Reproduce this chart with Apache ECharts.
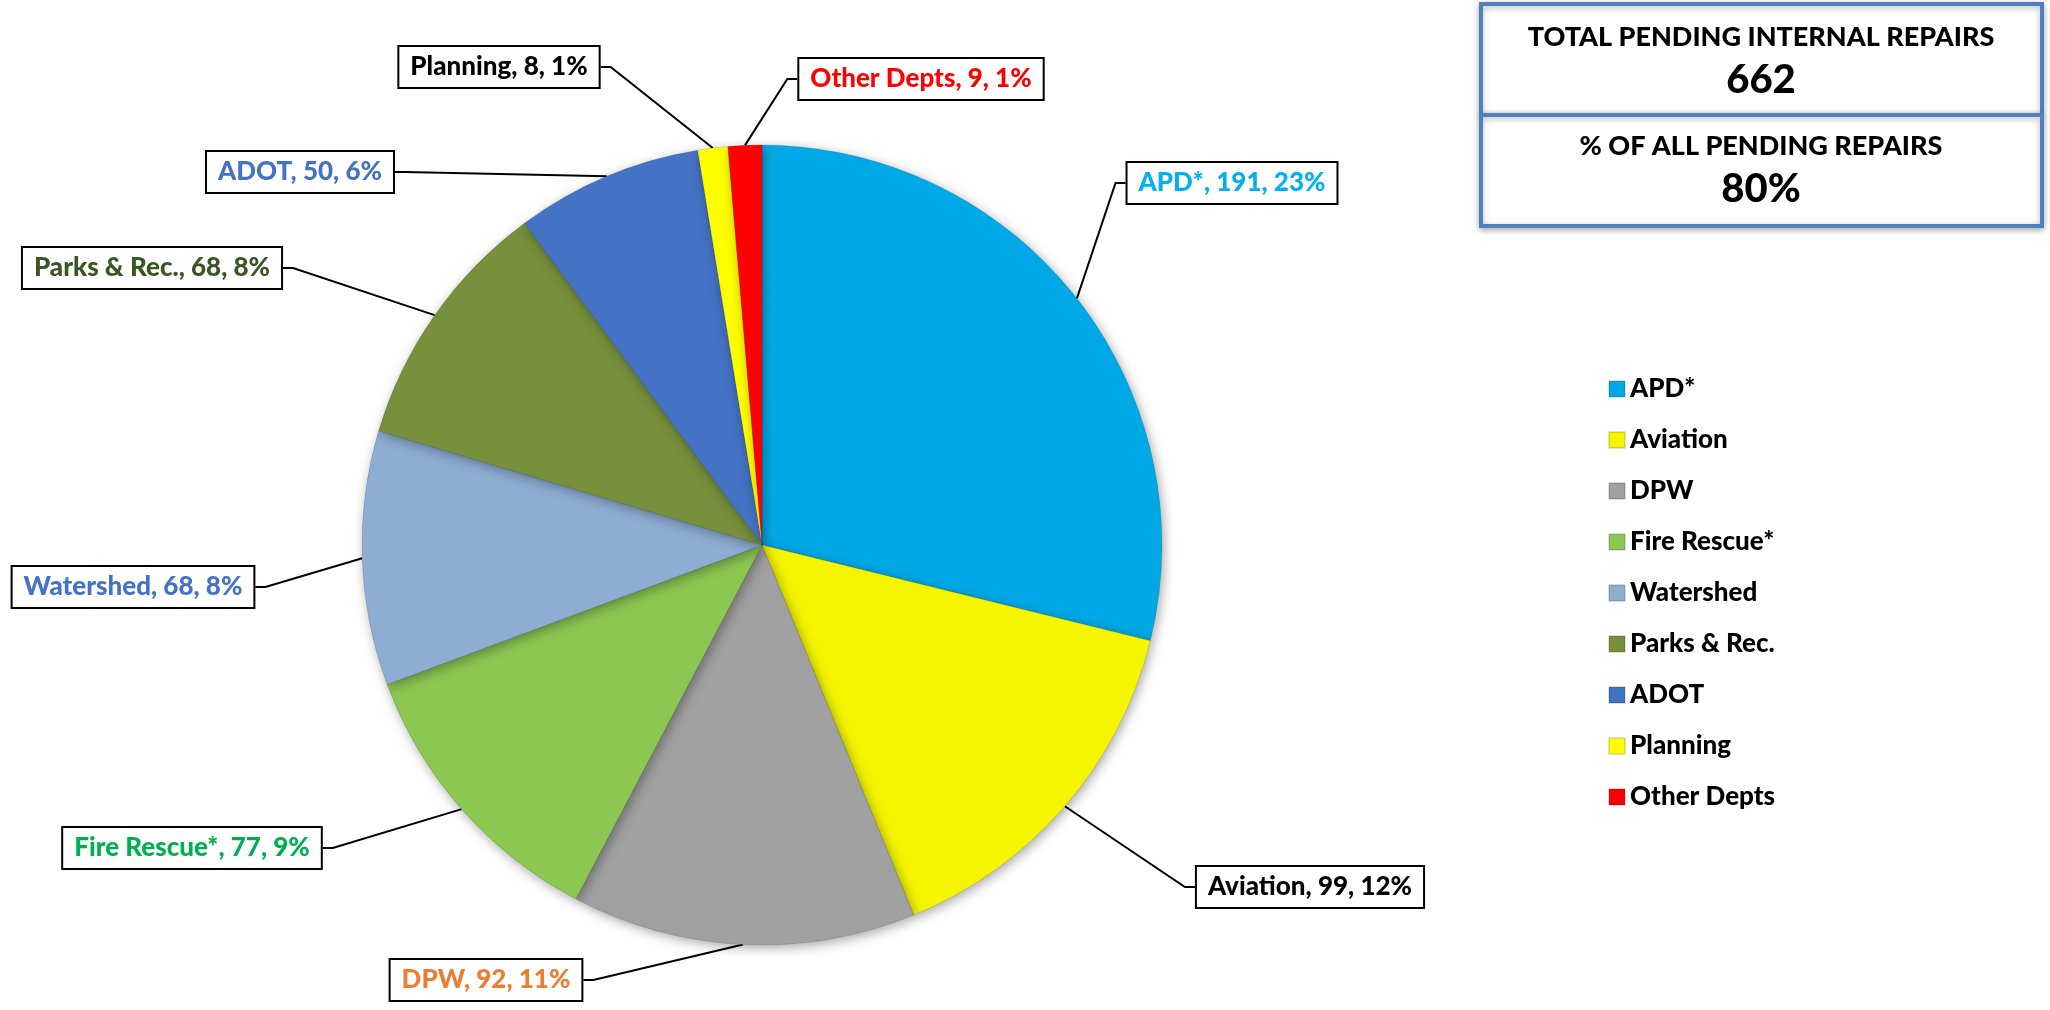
<!DOCTYPE html>
<html lang="en" style="height: 100%">
<head>
    <meta charset="utf-8"/>
    <meta name="viewport" content="width=device-width, initial-scale=1.0"/>
</head>
<body style="height: 100%; margin: 0; overflow: hidden; background: #fff">
<div id="container" style="height: 100%"></div>

<script type="text/javascript" src="https://cdn.jsdelivr.net/npm/echarts@6/dist/echarts.min.js"></script>

<script type="text/javascript">
    // data
    var depts = ["APD*", "Aviation", "DPW", "Fire Rescue*", "Watershed", "Parks & Rec.", "ADOT", "Planning", "Other Depts"];
    var pending = [191, 99, 92, 77, 68, 68, 50, 8, 9];
    var pctOfAll = [23, 12, 11, 9, 8, 8, 6, 1, 1];   // % of ALL pending repairs, as labelled
    var totalInternal = 662;
    var shareOfAll = "80%";

    // styles
    var sliceColors = ["#00A9E6", "#F5F500", "#A0A0A0", "#8CC752", "#8EADD3", "#77903C", "#4472C4", "#FFFF00", "#FF0000"];
    var labelColors = ["#00B0F0", "#000000", "#ED7D31", "#00B050", "#4472C4", "#375623", "#4472C4", "#000000", "#FF0000"];
    // centre of each label box (px)
    var labelPos = [[1232, 183], [1310, 887], [486, 980], [192, 848], [133, 587], [152, 268], [300, 172], [499, 67], [921, 79]];

    var dom = document.getElementById("container");
    var myChart = echarts.init(dom, null, {renderer: "canvas"});
    var FONT = "Lato, 'Open Sans', sans-serif";

    var option = {
        animation: false,
        color: sliceColors,
        legend: {
            orient: "vertical",
            left: 1603,
            top: 371,
            icon: "rect",
            itemWidth: 16,
            itemHeight: 16,
            itemGap: 25,
            selectedMode: false,
            textStyle: {
                fontFamily: FONT,
                fontWeight: 900,
                fontSize: 26,
                lineHeight: 26,
                color: "#000"
            },
            data: depts
        },
        graphic: [
            {
                type: "rect",
                shape: {x: 1481, y: 4, width: 561, height: 111},
                style: {fill: "#fff", stroke: "#4F81BD", lineWidth: 4, shadowBlur: 6, shadowColor: "rgba(0,0,0,0.3)", shadowOffsetY: 2}
            },
            {
                type: "rect",
                shape: {x: 1481, y: 115, width: 561, height: 111},
                style: {fill: "#fff", stroke: "#4F81BD", lineWidth: 4, shadowBlur: 6, shadowColor: "rgba(0,0,0,0.3)", shadowOffsetY: 2}
            },
            {
                type: "text", x: 1761, y: 37,
                style: {text: "TOTAL PENDING INTERNAL REPAIRS", fill: "#000", font: "900 27px " + FONT, align: "center", verticalAlign: "middle"}
            },
            {
                type: "text", x: 1761, y: 80,
                style: {text: String(totalInternal), fill: "#000", font: "900 40px " + FONT, align: "center", verticalAlign: "middle"}
            },
            {
                type: "text", x: 1761, y: 146,
                style: {text: "% OF ALL PENDING REPAIRS", fill: "#000", font: "900 27px " + FONT, align: "center", verticalAlign: "middle"}
            },
            {
                type: "text", x: 1761, y: 189,
                style: {text: shareOfAll, fill: "#000", font: "900 40px " + FONT, align: "center", verticalAlign: "middle"}
            }
        ],
        series: [
            {
                type: "pie",
                center: [762, 545],
                radius: [0, 400],
                startAngle: 90,
                clockwise: true,
                avoidLabelOverlap: false,
                itemStyle: {
                    borderColor: "rgba(0,0,0,0.12)",
                    borderWidth: 1,
                    shadowBlur: 12,
                    shadowColor: "rgba(0,0,0,0.35)",
                    shadowOffsetX: 2,
                    shadowOffsetY: 3
                },
                label: {
                    show: true,
                    position: "outside",
                    fontFamily: FONT,
                    fontWeight: 900,
                    fontSize: 26,
                    backgroundColor: "#fff",
                    borderColor: "#000",
                    borderWidth: 2,
                    padding: [8, 11, 6, 11],
                    formatter: function (p) {
                        return depts[p.dataIndex] + ", " + pending[p.dataIndex] + ", " + pctOfAll[p.dataIndex] + "%";
                    }
                },
                labelLine: {
                    show: true,
                    length: 20,
                    length2: 10,
                    lineStyle: {color: "#000", width: 2}
                },
                labelLayout: function (params) {
                    var pos = labelPos[params.dataIndex];
                    return {x: pos[0], y: pos[1], align: "center", verticalAlign: "middle"};
                },
                emphasis: {disabled: true},
                data: depts.map(function (d, i) {
                    return {
                        name: d,
                        value: pending[i],
                        label: {color: labelColors[i]}
                    };
                })
            }
        ]
    };

    myChart.setOption(option);
    window.addEventListener("resize", myChart.resize);
</script>
</body>
</html>
